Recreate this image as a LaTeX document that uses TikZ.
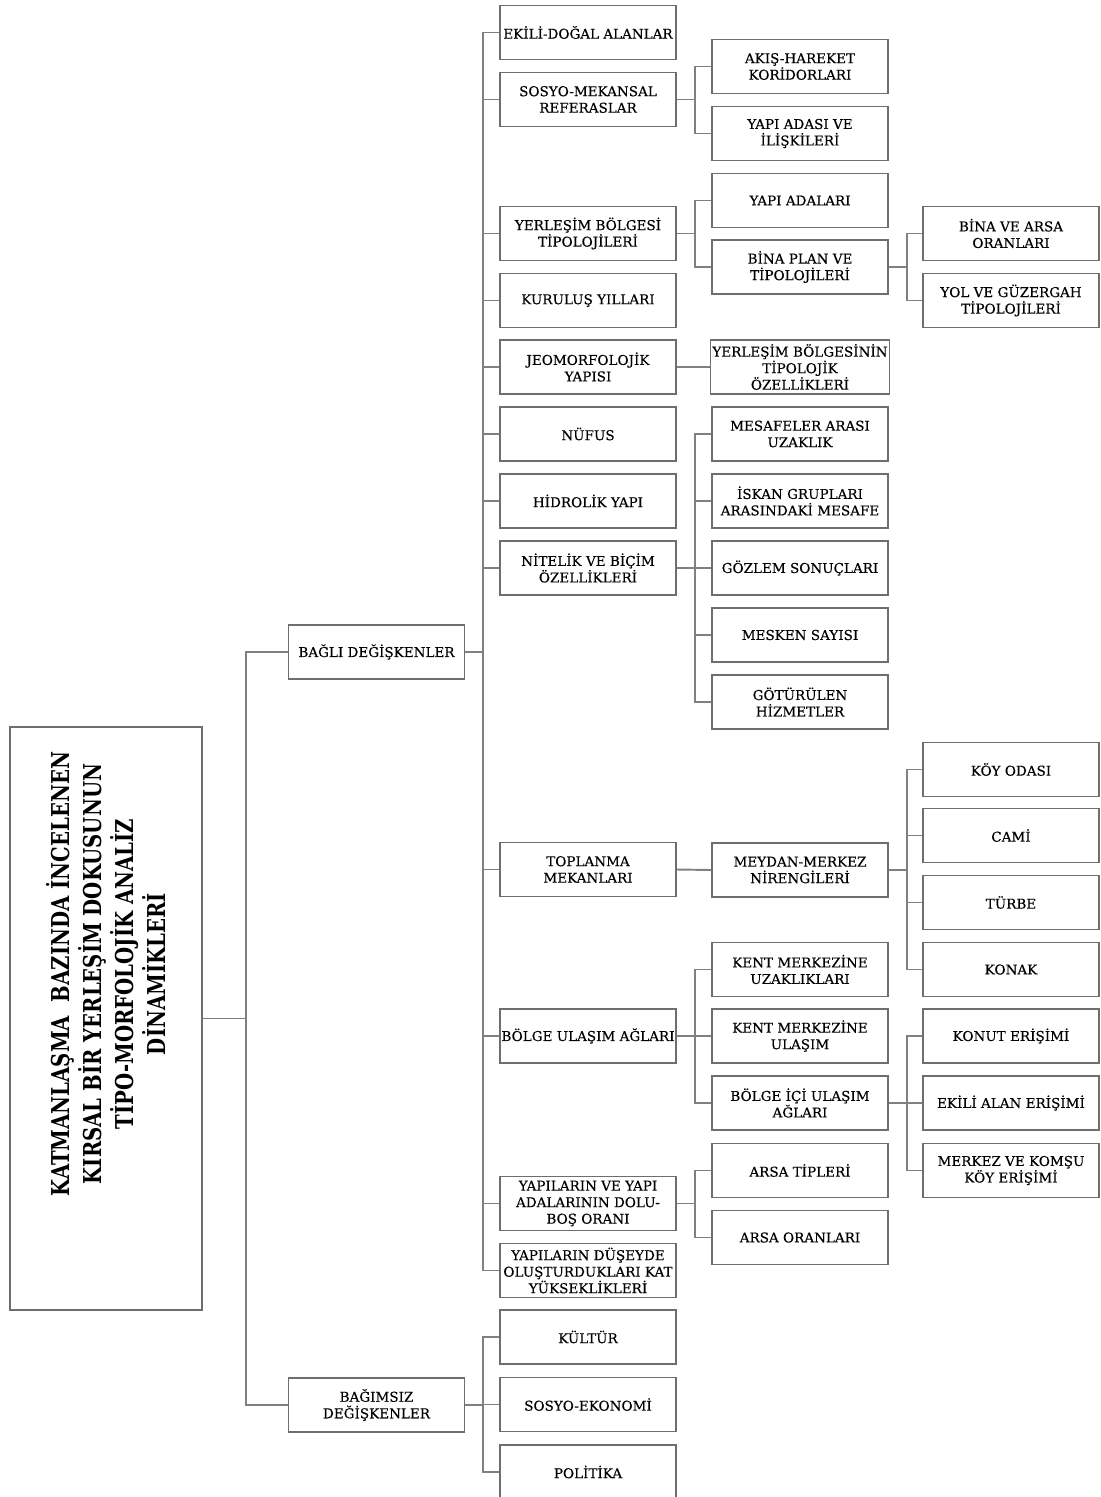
\documentclass[tikz,border=0pt]{standalone}
\usepackage{fontspec}
\setmainfont[FakeBold=0.3]{DejaVu Serif}
\newfontfamily\rootfont[FakeStretch=0.8]{DejaVu Serif}
\definecolor{linegray}{HTML}{808080}
\definecolor{boxgray}{HTML}{6E6E6E}

\begin{document}
\begin{tikzpicture}[
		x=0.02cm, y=-0.02cm,
		box/.style={draw=boxgray, line width=0.9pt, minimum width=3.52cm,
			minimum height=1.08cm, align=center, inner sep=1pt,
			font=\fontsize{7.7}{9.4}\selectfont},
		rootbox/.style={draw=boxgray, line width=0.9pt,
			minimum width=3.84cm, minimum height=11.66cm},
		rootlabel/.style={rotate=90, align=center, inner sep=0pt,
			font=\rootfont\bfseries\fontsize{14}{18.2}\selectfont},
		link/.style={draw=linegray, line width=1.1pt}
	]
	\useasboundingbox (0,0) rectangle (1100,1497);

	% root
	\node[rootbox] (root) at (106,1018.5) {};
	\node[rootlabel] (roottext) at (106,974) {KATMANLAŞMA~ BAZINDA İNCELENEN\\KIRSAL BİR YERLEŞİM DOKUSUNUN\\TİPO-MORFOLOJİK ANALİZ\\DİNAMİKLERİ};

	% level 1
	\node[box] (bagli) at (376.5,652) {BAĞLI DEĞİŞKENLER};
	\node[box] (bagimsiz) at (376.5,1405) {BAĞIMSIZ\\DEĞİŞKENLER};

	% level 2
	\node[box] (ekili) at (588,32.5) {EKİLİ-DOĞAL ALANLAR};
	\node[box] (sosyo) at (588,99.5) {SOSYO-MEKANSAL\\REFERASLAR};
	\node[box] (yerlesim) at (588,233.5) {YERLEŞİM BÖLGESİ\\TİPOLOJİLERİ};
	\node[box] (kurulus) at (588,300.5) {KURULUŞ YILLARI};
	\node[box] (jeomorf) at (588,367) {JEOMORFOLOJİK\\YAPISI};
	\node[box] (nufus) at (588,434) {NÜFUS};
	\node[box] (hidrolik) at (588,501) {HİDROLİK YAPI};
	\node[box] (nitelik) at (588,568) {NİTELİK VE BİÇİM\\ÖZELLİKLERİ};
	\node[box] (toplanma) at (588,869.5) {TOPLANMA\\MEKANLARI};
	\node[box] (ulasim) at (588,1036) {BÖLGE ULAŞIM AĞLARI};
	\node[box] (dolubos) at (588,1203.5) {YAPILARIN VE YAPI\\ADALARININ DOLU-\\BOŞ ORANI};
	\node[box] (kat) at (588,1270.5) {YAPILARIN DÜŞEYDE\\OLUŞTURDUKLARI KAT\\YÜKSEKLİKLERİ};
	\node[box] (kultur) at (588,1337) {KÜLTÜR};
	\node[box] (sosyoeko) at (588,1404.5) {SOSYO-EKONOMİ};
	\node[box] (politika) at (588,1472) {POLİTİKA};

	% level 3
	\node[box] (akis) at (800,66.5) {AKIŞ-HAREKET\\KORİDORLARI};
	\node[box] (adasi) at (800,133.5) {YAPI ADASI VE\\İLİŞKİLERİ};
	\node[box] (adalari) at (800,200.5) {YAPI ADALARI};
	\node[box] (binaplan) at (800,267) {BİNA PLAN VE\\TİPOLOJİLERİ};
	\node[box] (tipolojik) at (800,367) {YERLEŞİM BÖLGESİNİN\\TİPOLOJİK\\ÖZELLİKLERİ};
	\node[box] (mesafe) at (800,434) {MESAFELER ARASI\\UZAKLIK};
	\node[box] (iskan) at (800,501) {İSKAN GRUPLARI\\ARASINDAKİ MESAFE};
	\node[box] (gozlem) at (800,568) {GÖZLEM SONUÇLARI};
	\node[box] (mesken) at (800,635) {MESKEN SAYISI};
	\node[box] (hizmet) at (800,702) {GÖTÜRÜLEN\\HİZMETLER};
	\node[box] (meydan) at (800,870) {MEYDAN-MERKEZ\\NİRENGİLERİ};
	\node[box] (uzaklik) at (800,969.5) {KENT MERKEZİNE\\UZAKLIKLARI};
	\node[box] (kentulasim) at (800,1036) {KENT MERKEZİNE\\ULAŞIM};
	\node[box] (bolgeici) at (800,1103) {BÖLGE İÇİ ULAŞIM\\AĞLARI};
	\node[box] (arsatip) at (800,1170.5) {ARSA TİPLERİ};
	\node[box] (arsaoran) at (800,1237.5) {ARSA ORANLARI};

	% level 4
	\node[box] (binaarsa) at (1011,233.5) {BİNA VE ARSA\\ORANLARI};
	\node[box] (yol) at (1011,300.5) {YOL VE GÜZERGAH\\TİPOLOJİLERİ};
	\node[box] (koy) at (1011,769.5) {KÖY ODASI};
	\node[box] (cami) at (1011,835.5) {CAMİ};
	\node[box] (turbe) at (1011,902.5) {TÜRBE};
	\node[box] (konak) at (1011,969.5) {KONAK};
	\node[box] (konut) at (1011,1036) {KONUT ERİŞİMİ};
	\node[box] (ekilialan) at (1011,1103) {EKİLİ ALAN ERİŞİMİ};
	\node[box] (komsu) at (1011,1170.5) {MERKEZ VE KOMŞU\\KÖY ERİŞİMİ};

	% connectors
	\foreach \c in {bagli,bagimsiz}
		\draw[link] (root.east) -- ++(43,0) |- (\c.west);
	\foreach \c in {ekili,sosyo,yerlesim,kurulus,jeomorf,nufus,hidrolik,nitelik,toplanma,ulasim,dolubos,kat}
		\draw[link] (bagli.east) -- ++(18,0) |- (\c.west);
	\foreach \c in {kultur,sosyoeko,politika}
		\draw[link] (bagimsiz.east) -- ++(18,0) |- (\c.west);
	\foreach \c in {akis,adasi}
		\draw[link] (sosyo.east) -- ++(18,0) |- (\c.west);
	\foreach \c in {adalari,binaplan}
		\draw[link] (yerlesim.east) -- ++(18,0) |- (\c.west);
	\draw[link] (jeomorf.east) -- (tipolojik.west);
	\foreach \c in {mesafe,iskan,gozlem,mesken,hizmet}
		\draw[link] (nitelik.east) -- ++(18,0) |- (\c.west);
	\draw[link] (toplanma.east) -- (meydan.west);
	\foreach \c in {uzaklik,kentulasim,bolgeici}
		\draw[link] (ulasim.east) -- ++(18,0) |- (\c.west);
	\foreach \c in {arsatip,arsaoran}
		\draw[link] (dolubos.east) -- ++(18,0) |- (\c.west);
	\foreach \c in {binaarsa,yol}
		\draw[link] (binaplan.east) -- ++(18,0) |- (\c.west);
	\foreach \c in {koy,cami,turbe,konak}
		\draw[link] (meydan.east) -- ++(18,0) |- (\c.west);
	\foreach \c in {konut,ekilialan,komsu}
		\draw[link] (bolgeici.east) -- ++(18,0) |- (\c.west);
\end{tikzpicture}
\end{document}
